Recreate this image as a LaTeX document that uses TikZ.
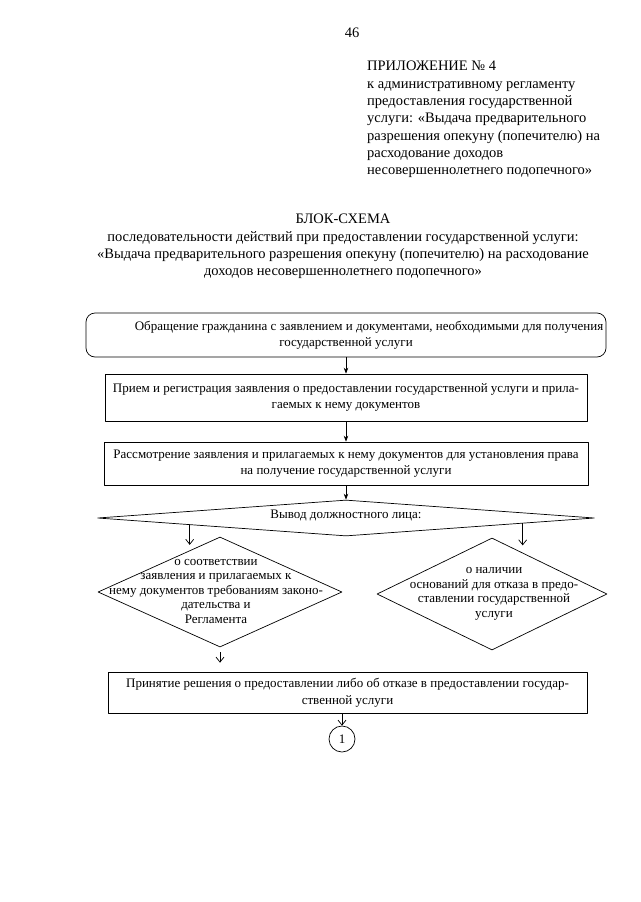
\documentclass[tikz,border=0pt]{standalone}
\usepackage{fontspec}
\setmainfont{Liberation Serif}
\usetikzlibrary{shapes.geometric,arrows.meta,calc}
\begin{document}
\begin{tikzpicture}[x=1pt,y=-1pt,line join=round,line cap=round,>=stealth,
  head/.style={font=\fontsize{14.5}{17.3}\selectfont,inner sep=0pt},
  txt/.style={font=\fontsize{13}{16.5}\selectfont,align=center},
  rtxt/.style={font=\fontsize{13}{14.5}\selectfont,align=center,inner sep=0pt},
  box/.style={txt,draw,line width=0.7pt,inner sep=2pt},
  romb/.style={draw,diamond,line width=0.7pt,inner sep=0pt},
  arr/.style={line width=0.7pt,-{Stealth[length=6pt,width=4.5pt]}},
  varr/.style={line width=0.7pt,-{Straight Barb[length=5pt,width=8pt]}}]
\useasboundingbox (0,0) rectangle (640,902);
\def\xc{346} % ось схемы
\node[head] (num) at (352,33) {46};
\node[head,align=left,anchor=north west] (pril) at (367,61) {ПРИЛОЖЕНИЕ № 4\\к административному регламенту\\предоставления государственной\\услуги: «Выдача предварительного\\разрешения опекуну (попечителю) на\\расходование доходов\\несовершеннолетнего подопечного»};
\node[head,align=center,anchor=north] (zag) at (343,214) {БЛОК-СХЕМА\\последовательности действий при предоставлении государственной услуги:\\«Выдача предварительного разрешения опекуну (попечителю) на расходование\\доходов несовершеннолетнего подопечного»};
% блоки
\node[box,rounded corners=9pt,minimum width=520pt,minimum height=44pt] (obr) at (\xc,335) {\hspace*{46pt}Обращение гражданина с заявлением и документами, необходимыми для получения\\государственной услуги};
\node[box,minimum width=482pt,minimum height=47pt] (priem) at (\xc,397.5) {Прием и регистрация заявления о предоставлении государственной услуги и прила-\\гаемых к нему документов};
\node[box,minimum width=484pt,minimum height=43pt] (rassm) at (\xc,463.5) {Рассмотрение заявления и прилагаемых к нему документов для установления права\\на получение государственной услуги};
\node[romb,minimum width=497pt,minimum height=36pt] (vyvod) at (\xc,518) {};
\node[txt,inner sep=0pt] (vyvodt) at (\xc,515) {Вывод должностного лица:};
\node[romb,minimum width=244pt,minimum height=110pt] (sootv) at (220,592) {};
\node[rtxt] (sootvt) at (216,591) {о соответствии\\заявления и прилагаемых к\\нему документов требованиям законо-\\дательства и\\Регламента};
\node[romb,minimum width=230pt,minimum height=112pt] (nalich) at (492,594) {};
\node[rtxt] (nalicht) at (494,594) {о наличии\\оснований для отказа в предо-\\ставлении государственной\\услуги};
\node[box,minimum width=479pt,minimum height=41pt] (prin) at (347.5,692.5) {Принятие решения о предоставлении либо об отказе в предоставлении государ-\\ственной услуги};
\node[txt,draw,circle,line width=0.7pt,minimum size=26pt,inner sep=0pt] (one) at (342,739) {1};
% стрелки
\draw[arr] (obr.south) -- (priem.north);
\draw[arr] (priem.south) -- (rassm.north);
\draw[arr] (rassm.south) -- (vyvod.north);
\draw[varr] ($(vyvod.west)!0.372!(vyvod.south)$) -- ++(0,20);
\draw[varr] ($(vyvod.east)!0.29!(vyvod.south)$) -- ++(0,22);
\draw[varr,shorten <=5pt,shorten >=9pt] (sootv.south) -- (sootv.south |- prin.north);
\draw[varr] (prin.south -| one.north) -- (one.north);
\end{tikzpicture}
\end{document}
